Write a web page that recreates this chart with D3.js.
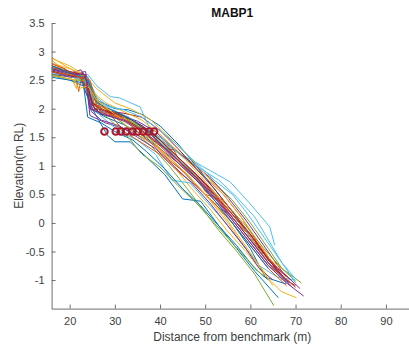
<!DOCTYPE html>
<html>
<head>
<meta charset="utf-8">
<script src="https://cdn.jsdelivr.net/npm/d3@7"></script>
<style>
  html, body { margin: 0; padding: 0; background: #fff; }
  svg { display: block; font-family: "Liberation Sans", Arial, sans-serif; }
</style>
</head>
<body>
<svg id="chart" width="409" height="347"></svg>
<script>
// ---- data ----
const chartTitle = "MABP1";
const xLabel = "Distance from benchmark (m)";
const yLabel = "Elevation(m RL)";
const xTicks = [20, 30, 40, 50, 60, 70, 80, 90];
const yTicks = [-1, -0.5, 0, 0.5, 1, 1.5, 2, 2.5, 3, 3.5];
const xDomain = [16, 96];
const yDomain = [-1.5, 3.5];

// survey profiles: [distance (m), elevation (m RL)]
const profiles = [
  [[16,2.65],[21,2.55],[23.5,2.5],[24.5,2.0],[28,1.85],[32,1.72],[36,1.55],[40,1.3],[44,1.0],[48,0.65],[52,0.35],[56,0.0],[60,-0.45],[63.3,-0.95],[67.9,-1.07]],
  [[16,2.8],[20,2.65],[22,2.6],[24,2.2],[26,1.95],[30,1.88],[34,1.72],[38,1.58],[42,1.35],[46,1.1],[50,0.8],[54,0.5],[58,0.1],[62,-0.4],[66,-0.85],[70,-1.13]],
  [[16,2.9],[19,2.75],[22,2.62],[25,2.35],[27,2.05],[31,1.92],[35,1.65],[39,1.4],[43,1.0],[47,0.6],[51,0.25],[55,-0.15],[59,-0.5],[63,-0.9],[66.8,-1.2],[70.2,-1.31]],
  [[16,2.72],[20,2.62],[22.5,2.68],[23.5,2.55],[24.5,1.88],[28,1.75],[32,1.65],[36,1.5],[40,1.3],[44,1.05],[48,0.75],[52,0.45],[56,0.05],[60,-0.35],[64,-0.75],[68,-1.05],[71.8,-1.28]],
  [[16,2.7],[21,2.6],[23,2.55],[25,2.1],[28,1.95],[32,1.85],[36,1.68],[40,1.5],[44,1.25],[48,1.0],[52,0.7],[56,0.4],[60,0.0],[64,-0.45],[67,-0.8],[71.3,-1.05]],
  [[16,2.6],[22,2.55],[24,2.6],[26,2.4],[29,2.21],[31,2.19],[35.6,2.03],[38,1.6],[42.6,1.29],[47,1.1],[51,0.92],[55.5,0.72],[59.9,0.34],[64.3,-0.07],[65.4,-0.39]],
  [[16,2.75],[20,2.65],[23,2.6],[24.5,2.1],[27,1.9],[31,1.85],[35,1.7],[38,1.55],[42,1.25],[46,0.95],[50,0.65],[54,0.3],[58,-0.1],[63,-0.58]],
  [[16,2.55],[20,2.5],[23,2.4],[25,2.0],[28.3,1.54],[30,1.42],[33.4,1.42],[37,1.15],[41,0.85],[45,0.42],[49,0.38],[53,-0.05],[57,-0.45],[61,-0.85],[66.2,-1.31]],
  [[16,2.68],[21,2.58],[23,2.45],[25.5,2.0],[29,1.95],[33,1.85],[37,1.62],[41,1.3],[43,1.28],[45,1.0],[48,0.85],[50,0.55],[53,0.4],[57,0.0],[61,-0.3],[65,-0.7],[68,-0.95]],
  [[16,2.85],[20,2.6],[21.5,2.35],[22,2.55],[25,2.3],[27,2.05],[31,1.8],[35,1.55],[39,1.35],[43,1.05],[47,0.75],[51,0.4],[55,0.0],[59,-0.45],[63.5,-0.9]],
  [[16,2.7],[20,2.6],[23.5,2.65],[25,2.1],[27,1.95],[31,1.9],[35,1.78],[39,1.6],[43,1.3],[47,1.05],[51,0.8],[55,0.45],[59,0.05],[63,-0.4],[67,-0.85],[71,-1.15]],
  [[16,2.75],[21,2.6],[24,2.5],[26,2.05],[30,1.85],[34,1.6],[38,1.35],[42,1.0],[46,0.6],[48.8,0.31],[53,-0.13],[57,-0.5],[61,-0.9],[65.2,-1.45]],
  [[16,2.65],[21,2.55],[23.5,2.45],[25,2.0],[28,1.8],[31,1.6],[35,1.45],[39,1.2],[42.6,0.75],[46.6,0.7],[50,0.4],[54,0.05],[58,-0.35],[62,-0.75],[66,-0.95],[70,-1.0]],
  [[16,2.6],[21,2.55],[24,2.55],[25.5,2.05],[29,1.92],[34,1.8],[38,1.6],[42,1.3],[46,1.0],[50,0.7],[54,0.35],[58,-0.05],[62,-0.45],[66,-0.8],[69,-1.0]],
  [[16,2.7],[20,2.6],[24,2.55],[26,2.15],[30,2.0],[33,1.98],[36,1.9],[40,1.7],[44,1.38],[48,1.0],[52,0.6],[56,0.2],[60,-0.25],[64,-0.7],[68.5,-1.05]],
  [[16,2.78],[19,2.7],[21.5,2.5],[22,2.3],[22.5,2.5],[25,2.2],[28,2.0],[32,1.6],[36,1.4],[40,1.2],[44,0.9],[48,0.65],[52,0.35],[56,0.0],[60,-0.4],[64,-0.8],[68,-1.1]],
  [[16,2.88],[20,2.75],[23,2.6],[26,2.35],[30,2.1],[34,1.98],[38,1.8],[42,1.5],[46,1.2],[50,0.85],[54,0.5],[58,0.1],[61.5,-0.3],[64.5,-0.65],[67,-0.8]],
  [[16,2.68],[21,2.6],[23.5,2.5],[24.8,1.95],[27,1.8],[31,1.7],[35,1.5],[39,1.3],[43,1.0],[47,0.7],[51,0.35],[55,-0.05],[59,-0.45],[62,-0.8],[65,-1.0]],
  [[16,2.72],[20,2.6],[23,2.58],[25,2.25],[27,2.0],[31,1.9],[35,1.7],[39,1.5],[43,1.2],[47,0.9],[51,0.6],[55,0.3],[59,-0.05],[63,-0.45],[67,-0.8],[70,-1.02]],
  [[16,2.62],[21,2.55],[24,2.55],[26,2.2],[29,2.0],[33,1.85],[37,1.65],[41,1.45],[45,1.15],[49,0.95],[53,0.75],[57,0.45],[61,0.1],[64,-0.3],[67,-0.7],[70,-0.98]],
  [[16,2.7],[22,2.6],[24.2,2.3],[25.5,2.0],[29,1.95],[32,1.92],[36,1.85],[40,1.62],[44,1.3],[48,0.95],[52,0.6],[56,0.2],[60,-0.2],[64,-0.65],[68,-1.0]],
  [[16,2.58],[20,2.5],[23,2.45],[24,1.85],[27,1.75],[30,1.6],[34,1.45],[37,1.25],[41,0.95],[45,0.6],[49,0.3],[53,-0.05],[57,-0.4],[61,-0.8],[64,-1.0]],
  [[16,2.72],[21,2.62],[23,2.5],[25,2.1],[28,2.0],[32,1.82],[35,1.6],[38,1.4],[42,1.1],[46,0.85],[50,0.5],[54,0.4],[58,0.0],[62,-0.4],[66,-0.85]],
  [[16,2.8],[20,2.7],[23,2.6],[25,2.3],[28,2.1],[32,1.95],[36,1.8],[40,1.55],[44,1.25],[48,0.9],[52,0.55],[56,0.15],[60,-0.25],[64,-0.7],[67,-1.0]],
  [[16,2.65],[20,2.55],[23,2.62],[24,2.45],[25,2.0],[28,1.9],[32,1.78],[36,1.6],[40,1.35],[44,1.05],[48,0.75],[52,0.4],[56,0.05],[60,-0.35],[64,-0.75],[68,-1.05]],
  [[16,2.6],[21,2.5],[24,2.5],[25.5,2.05],[29,1.8],[33,1.5],[36,1.2],[40,0.98],[44,0.65],[48,0.35],[52,0.0],[56,-0.35],[60,-0.7],[63,-0.95]],
  [[16,2.7],[21,2.6],[23,2.55],[25,2.2],[28,2.05],[32,1.98],[36,1.85],[40,1.62],[44,1.35],[48,1.05],[52,0.75],[56,0.5],[59,0.2],[63,-0.25],[67,-0.7],[70,-1.05]],
  [[16,2.66],[21,2.56],[23.5,2.55],[25,2.1],[28,1.95],[32,1.88],[36,1.7],[40,1.45],[44,1.15],[48,0.85],[52,0.5],[56,0.15],[60,-0.2],[64,-0.65],[68,-1.0],[70,-1.1]],
  [[16,2.75],[21,2.6],[24,2.5],[26,2.1],[30,1.95],[34,1.8],[38,1.55],[42,1.25],[46,0.95],[50,0.6],[54,0.2],[58,-0.2],[61,-0.5],[64,-0.8]],
  [[16,2.64],[21,2.58],[24.5,2.5],[26,2.05],[29,1.9],[33,1.78],[37,1.55],[41,1.3],[45,1.0],[49,0.7],[53,0.35],[57,0.0],[61,-0.4],[65,-0.8],[69,-1.05]],
  [[16,2.58],[21,2.5],[22,2.35],[24,2.4],[26,2.15],[30,1.9],[34,1.7],[38,1.45],[42,1.15],[46,0.85],[50,0.5],[54,0.15],[58,-0.3],[62,-0.75],[65,-1.1]],
  [[16,2.7],[21,2.6],[23.5,2.6],[24.5,2.0],[28,1.88],[32,1.8],[36,1.62],[40,1.38],[44,1.1],[48,0.8],[52,0.45],[56,0.1],[60,-0.3],[64,-0.7],[69,-1.1]]
];

// marked points on each profile
const markerDistances = [27.7, 30.2, 31.3, 32.5, 33.9, 35.0, 36.3, 37.6, 38.7];
const markerElevations = [1.6, 1.6, 1.6, 1.6, 1.6, 1.6, 1.6, 1.6, 1.6];

// ---- drawing ----
const colorOrder = ["#0072BD", "#D95319", "#EDB120", "#7E2F8E", "#77AC30", "#4DBEEE", "#A2142F"];
const svg = d3.select("#chart");
const plotLeft = 51.6, plotRight = 413, plotTop = 23, plotBottom = 308.6;

const x = d3.scaleLinear().domain(xDomain).range([plotLeft, plotRight]);
const y = d3.scaleLinear().domain(yDomain).range([plotBottom, plotTop]);

svg.append("defs").append("clipPath").attr("id", "plotclip")
  .append("rect").attr("x", plotLeft).attr("y", plotTop)
  .attr("width", plotRight - plotLeft).attr("height", plotBottom - plotTop);

const line = d3.line().x(d => x(d[0])).y(d => y(d[1]));
const g = svg.append("g").attr("clip-path", "url(#plotclip)");
g.selectAll("path.profile").data(profiles).join("path")
  .attr("class", "profile")
  .attr("d", line)
  .attr("fill", "none")
  .attr("stroke", (d, i) => colorOrder[i % colorOrder.length])
  .attr("stroke-width", 1)
  .attr("stroke-linejoin", "round");

g.selectAll("circle.mk").data(markerDistances.map((d, i) => [d, markerElevations[i]])).join("circle")
  .attr("class", "mk")
  .attr("cx", d => x(d[0]))
  .attr("cy", d => y(d[1]))
  .attr("r", 3.3)
  .attr("fill", "none")
  .attr("stroke", "#A8182F")
  .attr("stroke-width", 2);

// axes
const axisColor = "#6e6e6e";
const textColor = "#404040";
const xAxis = svg.append("g").attr("transform", `translate(0,${plotBottom})`)
  .call(d3.axisBottom(x).tickValues(xTicks).tickSize(-4).tickSizeOuter(0).tickPadding(9));
const yAxis = svg.append("g").attr("transform", `translate(${plotLeft},0)`)
  .call(d3.axisLeft(y).tickValues(yTicks).tickSize(-4).tickSizeOuter(0).tickPadding(7)
    .tickFormat(d => String(d)));
[xAxis, yAxis].forEach(a => {
  a.select(".domain").attr("stroke", axisColor).attr("stroke-width", 1);
  a.selectAll(".tick line").attr("stroke", axisColor);
  a.selectAll(".tick text").attr("fill", textColor)
    .style("font-size", "11px").style("font-family", "'Liberation Sans', Arial, sans-serif");
});

// labels
const midX = (plotLeft + plotRight) / 2;
svg.append("text").attr("x", midX).attr("y", 16.5)
  .attr("text-anchor", "middle").attr("fill", "#111")
  .style("font-size", "12px").style("font-weight", "bold")
  .text(chartTitle);
svg.append("text").attr("x", midX).attr("y", 340.5)
  .attr("text-anchor", "middle").attr("fill", textColor)
  .style("font-size", "12px")
  .text(xLabel);
svg.append("text")
  .attr("transform", `translate(22.5,${(plotTop + plotBottom) / 2}) rotate(-90)`)
  .attr("text-anchor", "middle").attr("fill", textColor)
  .style("font-size", "12px")
  .text(yLabel);
</script>
</body>
</html>
